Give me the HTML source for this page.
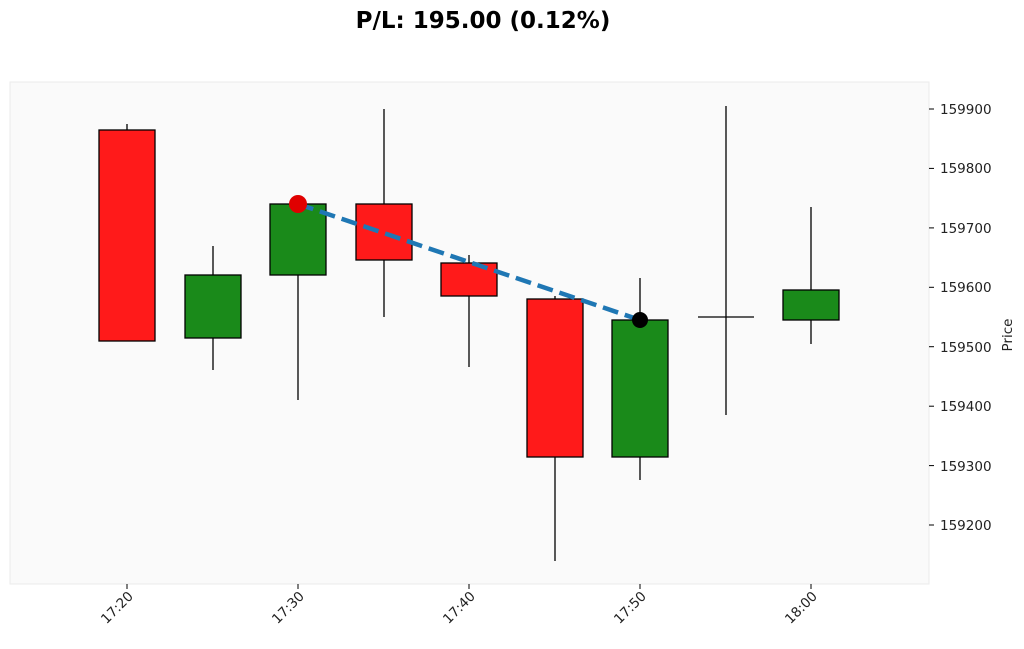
<!DOCTYPE html>
<html><head><style>body{margin:0;background:#fff}</style></head><body>
<svg width="1024" height="644" xmlns="http://www.w3.org/2000/svg" font-family="DejaVu Sans, Liberation Sans, sans-serif">
<rect width="1024" height="644" fill="#fff"/>
<text x="483" y="28" text-anchor="middle" font-size="23" font-weight="bold">P/L: 195.00 (0.12%)</text>
<rect x="10" y="82" width="919" height="502" fill="#fafafa" stroke="#ebebeb"/>
<g stroke="#000" stroke-width="1.3">
<line x1="127" y1="124" x2="127" y2="341"/>
<line x1="213" y1="246" x2="213" y2="370"/>
<line x1="298" y1="204" x2="298" y2="400"/>
<line x1="384" y1="109" x2="384" y2="317"/>
<line x1="469" y1="255" x2="469" y2="367"/>
<line x1="555" y1="296" x2="555" y2="561"/>
<line x1="640" y1="278" x2="640" y2="480"/>
<line x1="726" y1="106" x2="726" y2="415"/>
<line x1="811" y1="207" x2="811" y2="344"/>
<line x1="698" y1="317" x2="754" y2="317"/>
</g>
<g stroke="#000" stroke-width="1.3">
<rect x="99" y="130" width="56" height="211" fill="#ff1a1a"/>
<rect x="185" y="275" width="56" height="63" fill="#1a8a1a"/>
<rect x="270" y="204" width="56" height="71" fill="#1a8a1a"/>
<rect x="356" y="204" width="56" height="56" fill="#ff1a1a"/>
<rect x="441" y="263" width="56" height="33" fill="#ff1a1a"/>
<rect x="527" y="299" width="56" height="158" fill="#ff1a1a"/>
<rect x="612" y="320" width="56" height="137" fill="#1a8a1a"/>
<rect x="783" y="290" width="56" height="30" fill="#1a8a1a"/>
</g>
<line x1="298" y1="204" x2="640" y2="320" stroke="#1f77b4" stroke-width="4.5" stroke-dasharray="16,7"/>
<circle cx="298" cy="204" r="9" fill="#e00000"/>
<circle cx="640" cy="320" r="8" fill="#000"/>
<g font-size="13.5" fill="#222">
<g stroke="#000"><line x1="929" y1="109" x2="934" y2="109"/><line x1="929" y1="168.4" x2="934" y2="168.4"/><line x1="929" y1="227.9" x2="934" y2="227.9"/><line x1="929" y1="287.3" x2="934" y2="287.3"/><line x1="929" y1="346.7" x2="934" y2="346.7"/><line x1="929" y1="406.2" x2="934" y2="406.2"/><line x1="929" y1="465.6" x2="934" y2="465.6"/><line x1="929" y1="525" x2="934" y2="525"/></g>
<text x="940" y="114">159900</text>
<text x="940" y="173">159800</text>
<text x="940" y="233">159700</text>
<text x="940" y="292">159600</text>
<text x="940" y="352">159500</text>
<text x="940" y="411">159400</text>
<text x="940" y="471">159300</text>
<text x="940" y="530">159200</text>
<text transform="translate(1012,335) rotate(-90)" text-anchor="middle">Price</text>
<g stroke="#000"><line x1="127" y1="584" x2="127" y2="589"/><line x1="298" y1="584" x2="298" y2="589"/><line x1="469" y1="584" x2="469" y2="589"/><line x1="640" y1="584" x2="640" y2="589"/><line x1="811" y1="584" x2="811" y2="589"/></g>
<text transform="translate(134,597) rotate(-45)" text-anchor="end">17:20</text>
<text transform="translate(305,597) rotate(-45)" text-anchor="end">17:30</text>
<text transform="translate(476,597) rotate(-45)" text-anchor="end">17:40</text>
<text transform="translate(647,597) rotate(-45)" text-anchor="end">17:50</text>
<text transform="translate(818,597) rotate(-45)" text-anchor="end">18:00</text>
</g>
</svg>
</body></html>
